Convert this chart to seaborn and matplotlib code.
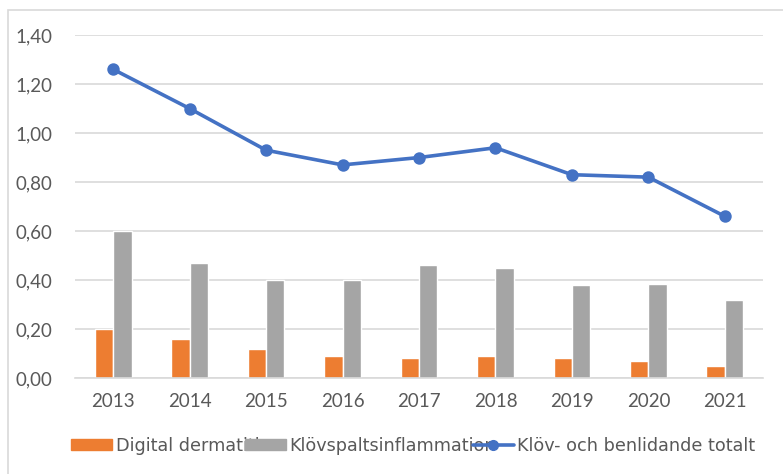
import matplotlib
matplotlib.use("Agg")
import matplotlib.pyplot as plt
import matplotlib.patches as mpatches
from matplotlib.lines import Line2D
from matplotlib.ticker import FuncFormatter, MultipleLocator
import seaborn as sns
import pandas as pd

# Data
years = ["2013", "2014", "2015", "2016", "2017", "2018", "2019", "2020", "2021"]
digital_dermatitis = [0.20, 0.16, 0.12, 0.09, 0.08, 0.09, 0.08, 0.07, 0.05]
klovspalt = [0.60, 0.47, 0.40, 0.40, 0.46, 0.45, 0.38, 0.385, 0.32]
total = [1.26, 1.10, 0.93, 0.87, 0.90, 0.94, 0.83, 0.82, 0.66]

series_names = ["Digital dermatitis", "Klövspaltsinflammation"]
line_name = "Klöv- och benlidande totalt"

ORANGE = "#ED7D31"
GRAY = "#A5A5A5"
BLUE = "#4472C4"
TEXT = "#595959"
GRID = "#D9D9D9"

sns.set_theme(style="white")
plt.rcParams["font.family"] = ["Lato", "DejaVu Sans"]

bars = pd.DataFrame({
    "year": years * 2,
    "value": digital_dermatitis + klovspalt,
    "series": [series_names[0]] * len(years) + [series_names[1]] * len(years),
})

fig = plt.figure(figsize=(7.83, 4.74), dpi=100)
ax = fig.add_axes([0.0958, 0.2025, 0.8787, 0.7235])

sns.barplot(data=bars, x="year", y="value", hue="series", order=years,
            hue_order=series_names, palette=[ORANGE, GRAY], width=0.48,
            gap=0, saturation=1, legend=False, ax=ax, zorder=2)
sns.pointplot(x=years, y=total, order=years, color=BLUE, markers="o",
              markersize=7, linewidth=2.6, ax=ax, zorder=3)

ax.set_xlim(-0.5, len(years) - 0.5)
ax.set_ylim(0, 1.40)
ax.yaxis.set_major_locator(MultipleLocator(0.2))
ax.yaxis.set_major_formatter(FuncFormatter(lambda v, _: f"{v:.2f}".replace(".", ",")))
ax.grid(axis="y", color=GRID, linewidth=1.2, zorder=0)
ax.set_axisbelow(True)
for side in ["top", "right", "left"]:
    ax.spines[side].set_visible(False)
ax.spines["bottom"].set_color(GRID)
ax.spines["bottom"].set_linewidth(1.2)
ax.tick_params(axis="both", length=0, labelsize=13.5, labelcolor=TEXT)
ax.tick_params(axis="y", pad=16)
ax.tick_params(axis="x", pad=11)
ax.set_xlabel("")
ax.set_ylabel("")

handles = [
    mpatches.Patch(color=ORANGE),
    mpatches.Patch(color=GRAY),
    Line2D([], [], color=BLUE, linewidth=2.6, marker="o", markersize=7),
]
fig.legend(handles, series_names + [line_name], loc="center",
           bbox_to_anchor=(0.528, 0.059), ncol=3, frameon=False,
           prop={"family": "DejaVu Sans", "size": 12.7}, labelcolor=TEXT,
           handlelength=2.3, handleheight=0.6,
           handletextpad=0.2, columnspacing=-1.3)

# light frame around the whole chart area
fig.patches.append(mpatches.Rectangle((8 / 783, -0.1), 1.1, 1.1 - 10 / 474,
                                      transform=fig.transFigure, fill=False,
                                      edgecolor=GRID, linewidth=1.2))

fig.savefig("out.png", dpi=100)
